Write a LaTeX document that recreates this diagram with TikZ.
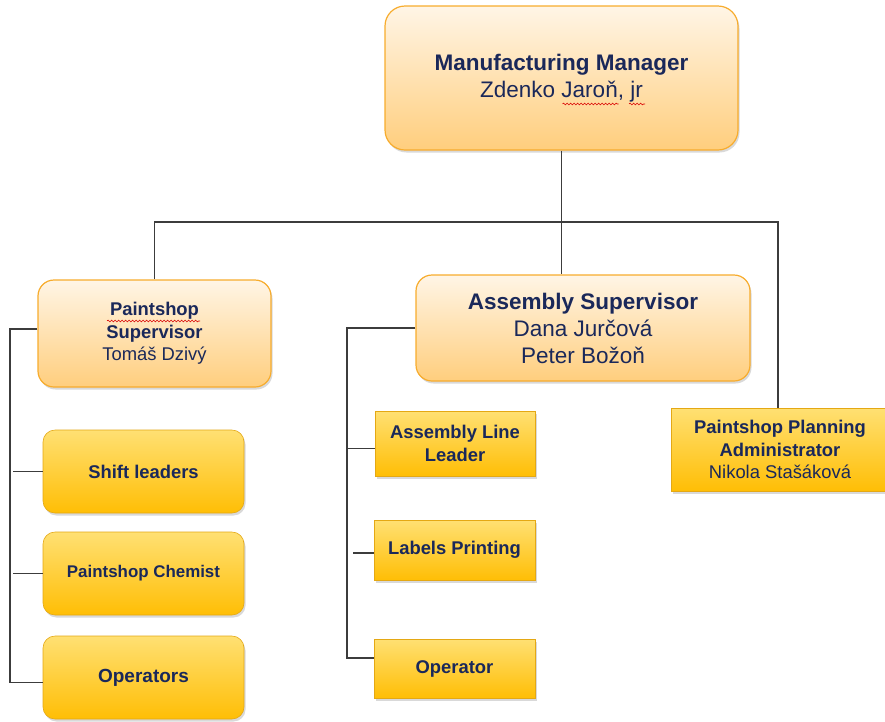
\documentclass[tikz,border=0pt]{standalone}
\usepackage{fontspec}
\setmainfont{Liberation Sans}
\usetikzlibrary{shadows,decorations.pathmorphing}

\definecolor{navytext}{RGB}{26,40,90}
\definecolor{mgrtop}{RGB}{255,245,230}
\definecolor{mgrbot}{RGB}{255,206,125}
\definecolor{mgrdraw}{RGB}{247,172,45}
\definecolor{yeltop}{RGB}{255,224,115}
\definecolor{yelbot}{RGB}{255,190,5}
\definecolor{yeldraw}{RGB}{228,168,20}
\definecolor{conncol}{RGB}{60,60,60}

\newcommand{\bigfs}{\fontsize{22.5}{27}\selectfont}
\newcommand{\midfs}{\fontsize{18.4}{22.5}\selectfont}
\newcommand{\smallfs}{\fontsize{16.9}{20}\selectfont}

\tikzset{
	boxbase/.style={align=center, text=navytext, inner sep=0pt,
		drop shadow={shadow xshift=1.5pt, shadow yshift=-2.5pt, opacity=0.3}},
	mgrbox/.style={boxbase, draw=mgrdraw, line width=1.2pt, rounded corners=20pt,
		top color=mgrtop, bottom color=mgrbot},
	rolebox/.style={boxbase, draw=yeldraw, line width=0.6pt, rounded corners=12pt,
		top color=yeltop, bottom color=yelbot, minimum width=201, minimum height=83},
	taskbox/.style={boxbase, draw=yeldraw, line width=0.6pt,
		top color=yeltop, bottom color=yelbot},
	conn/.style={draw=conncol, line width=1.1pt},
	spellmark/.style={red!85!black, line width=0.6pt, decorate,
		decoration={snake, amplitude=0.9pt, segment length=3.5pt}}
}

\begin{document}
\begin{tikzpicture}[x=1pt, y=-1pt]
	\clip (0,0) rectangle (885,721);

	% top level
	\node[mgrbox, font=\bigfs, minimum width=353, minimum height=144] (mgr) at (561.5,78)
		{\textbf{Manufacturing Manager}\\Zdenko Jaroň, jr};

	% second level
	\node[mgrbox, font=\midfs, rounded corners=16pt, minimum width=233, minimum height=107] (psup) at (154.5,333.5)
		{\textbf{Paintshop}\\\textbf{Supervisor}\\Tomáš Dzivý};
	\node[mgrbox, font=\bigfs, rounded corners=16pt, minimum width=334, minimum height=106] (asup) at (583,328)
		{\textbf{Assembly Supervisor}\\Dana Jurčová\\Peter Božoň};
	\node[taskbox, font=\midfs, minimum width=218, minimum height=83] (ppa) at (780,449.5)
		{\textbf{Paintshop Planning}\\\textbf{Administrator}\\Nikola Stašáková};

	% paintshop team
	\node[rolebox, font=\midfs] (shift) at (143.5,471.5) {\textbf{Shift leaders}};
	\node[rolebox, font=\smallfs] (chem) at (143.5,573.5) {\textbf{Paintshop Chemist}};
	\node[rolebox, font=\fontsize{19}{23}\selectfont] (ops) at (143.5,677.5) {\textbf{Operators}};

	% assembly team
	\node[taskbox, font=\midfs, minimum width=160, minimum height=65] (all) at (455,443.5)
		{\textbf{Assembly Line}\\\textbf{Leader}};
	\node[taskbox, font=\midfs, minimum width=161, minimum height=60] (lbl) at (454.5,550)
		{\textbf{Labels Printing}};
	\node[taskbox, font=\midfs, minimum width=161, minimum height=59] (opr) at (454.5,668.5)
		{\textbf{Operator}};

	% connectors
	\coordinate (bus) at (0,222);
	\coordinate (ltrunk) at (10,0);
	\coordinate (lstub) at (13,0);
	\coordinate (mtrunk) at (347,0);
	\coordinate (mstub) at (353,0);

	\draw[conn] (mgr.south) -- (asup.north -| mgr.south);
	\draw[conn] (psup.north) -- (psup.north |- bus) -- ([xshift=-2pt]ppa.north |- bus) -- ([xshift=-2pt]ppa.north);

	\draw[conn] ([yshift=4.5pt]psup.west) -- ([yshift=4.5pt]psup.west -| ltrunk) |- ([yshift=-5pt]ops.west);
	\draw[conn] (shift.west) -- (shift.west -| lstub);
	\draw[conn] (chem.west) -- (chem.west -| lstub);

	\draw[conn] (asup.west) -- (asup.west -| mtrunk) |- ([yshift=10.5pt]opr.west);
	\draw[conn] ([yshift=-5pt]all.west) -- ([yshift=-5pt]all.west -| mtrunk);
	\draw[conn] ([yshift=-3pt]lbl.west) -- ([yshift=-3pt]lbl.west -| mstub);

	% spelling marks
	\draw[spellmark] ([shift={(1,26)}]mgr.center) -- ++(56,0);
	\draw[spellmark] ([shift={(67.5,26)}]mgr.center) -- ++(16,0);
	\draw[spellmark] ([shift={(-47.5,-12.5)}]psup.center) -- ++(93,0);
\end{tikzpicture}
\end{document}
